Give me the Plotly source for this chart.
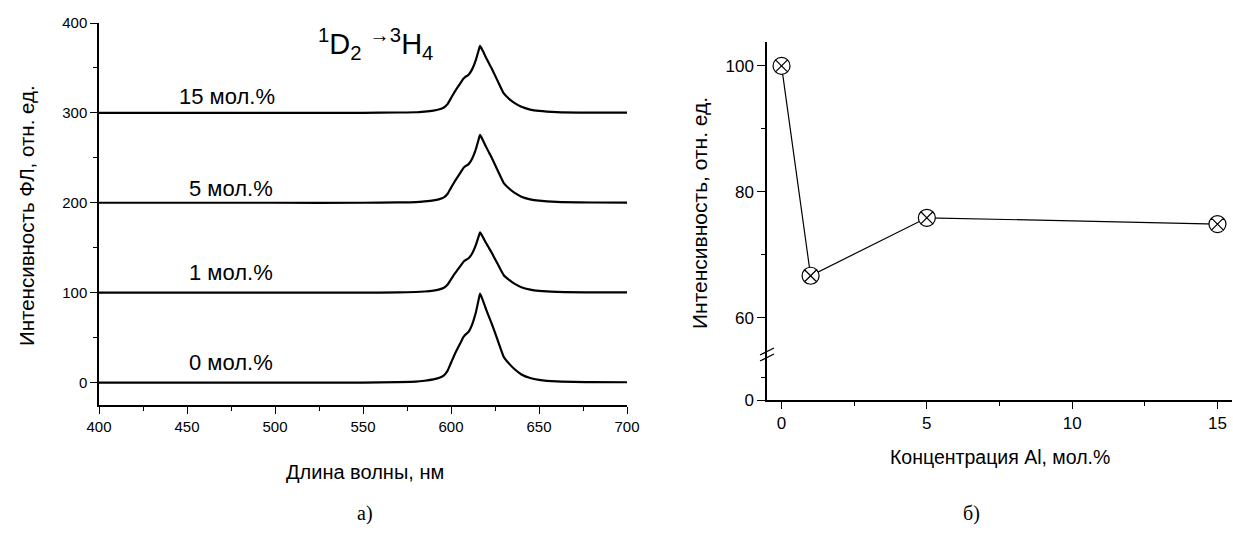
import plotly.graph_objects as go

# ---------------- data ----------------
wavelength = [400, 450, 500, 550, 570, 580, 585, 590, 593, 596, 598, 600, 602, 604, 606, 607, 608,
              610, 612, 614, 616, 616.5, 618, 620, 622, 623, 625, 627, 630, 633, 636, 640, 645,
              650, 660, 680, 700]
spec_0 = [0, 0, 0, 0, 0.5, 1, 2, 3.5, 5, 8, 13, 22, 31, 39, 46.5, 50.5, 53, 56.5, 64.5, 77, 95, 99,
          92, 81, 71, 66, 55.5, 44.5, 28.5, 21, 15, 9, 5, 3, 1.2, 0.4, 0.3]
spec_1 = [0, 0, 0, 0, 0.3, 0.7, 1.3, 2.3, 3.4, 5.4, 8.7, 14.7, 20.8, 26.1, 31.5, 34.2, 35.8, 38.2,
          43.6, 52.3, 64.3, 67, 62.3, 54.9, 48.2, 44.9, 37.5, 30.2, 19.4, 14.1, 10, 6, 3.4, 2, 0.8,
          0.3, 0.2]
spec_5 = [0, 0, 0, 0, 0.4, 0.8, 1.5, 2.6, 3.8, 6, 9.8, 16.6, 23.4, 29.4, 35.5, 38.5, 40.4, 43, 49.1,
          58.9, 72.5, 75.5, 70.2, 61.9, 54.4, 50.6, 42.3, 34, 21.9, 15.9, 11.3, 6.8, 3.8, 2.3, 0.9,
          0.3, 0.2]
spec_15 = [0, 0, 0, 0, 0.4, 0.7, 1.5, 2.6, 3.7, 6, 9.7, 16.4, 23.1, 29.1, 35, 38, 39.9, 42.5, 48.4,
           58.1, 71.5, 74.5, 69.3, 61.1, 53.6, 49.9, 41.7, 33.5, 21.6, 15.6, 11.2, 6.7, 3.7, 2.2,
           0.9, 0.3, 0.2]
spectra = [spec_0, spec_1, spec_5, spec_15]
offsets = [0, 100, 200, 300]
series_labels = ["0 мол.%", "1 мол.%", "5 мол.%", "15 мол.%"]
label_x = [475, 475, 475, 473]
label_y = [22, 122, 216, 318]

concentration = [0, 1, 5, 15]
intensity = [100, 66.7, 75.9, 74.9]

W, H = 1233, 534
FONT = "Liberation Sans, Arial, sans-serif"
SERIF = "Liberation Serif, Times New Roman, serif"


def px(x):
    return x / W


def py(y):
    return (H - y) / H


fig = go.Figure()

for s, off in zip(spectra, offsets):
    fig.add_trace(go.Scatter(
        x=wavelength, y=[v + off for v in s], mode="lines",
        line=dict(color="black", width=2.2, shape="spline", smoothing=0.5),
        xaxis="x", yaxis="y", showlegend=False, hoverinfo="skip"))

fig.add_trace(go.Scatter(
    x=concentration, y=intensity, mode="lines+markers",
    line=dict(color="black", width=1.2),
    marker=dict(symbol="circle-x", size=17, color="white",
                line=dict(color="black", width=1.2)),
    xaxis="x2", yaxis="y2", showlegend=False, cliponaxis=False))

# empty trace so that the lower (broken) segment of the right y axis is drawn
fig.add_trace(go.Scatter(x=[], y=[], xaxis="x2", yaxis="y3", showlegend=False))

axis_common = dict(showline=True, linecolor="black", linewidth=1.5, ticks="outside",
                   tickcolor="black", showgrid=False, zeroline=False, automargin=False)

fig.update_layout(
    width=W, height=H, margin=dict(l=0, r=0, t=0, b=0, autoexpand=False),
    paper_bgcolor="white", plot_bgcolor="white",
    font=dict(family=FONT, color="black"),
    xaxis=dict(domain=[px(99), px(627)], range=[400, 700], anchor="y",
               tickvals=[400, 450, 500, 550, 600, 650, 700], ticklen=7, tickwidth=1.3,
               minor=dict(dtick=25, tick0=400, ticklen=4, ticks="outside", tickcolor="black",
                          tickwidth=1.3),
               tickfont=dict(size=15), **axis_common),
    yaxis=dict(domain=[py(405), py(23)], range=[-25, 400], anchor="x",
               tickvals=[0, 100, 200, 300, 400], ticklen=7, tickwidth=1.3,
               minor=dict(dtick=50, tick0=0, ticklen=4, ticks="outside", tickcolor="black",
                          tickwidth=1.3),
               tickfont=dict(size=15), **axis_common),
    xaxis2=dict(domain=[px(767), px(1232)], range=[-0.5, 15.5], anchor="y3",
                tickvals=[0, 5, 10, 15], ticklen=7, tickwidth=1.2,
                minor=dict(dtick=2.5, tick0=0, ticklen=4, ticks="outside", tickcolor="black",
                           tickwidth=1.2),
                tickfont=dict(size=17), **axis_common),
    yaxis2=dict(domain=[py(352), py(42)], range=[54.6, 103.8], anchor="x2",
                tickvals=[60, 80, 100], ticklen=8, tickwidth=1.2,
                minor=dict(dtick=10, tick0=60, ticklen=4, ticks="outside", tickcolor="black",
                           tickwidth=1.2),
                tickfont=dict(size=17), **axis_common),
    yaxis3=dict(domain=[py(400), py(352)], range=[0, 43.6], anchor="x2",
                tickvals=[0], ticklen=8, tickwidth=1.2,
                minor=dict(tickvals=[20], ticklen=4, ticks="outside", tickcolor="black",
                           tickwidth=1.2),
                tickfont=dict(size=17), **axis_common),
)

annotations = []
for lx, ly, txt in zip(label_x, label_y, series_labels):
    annotations.append(dict(x=lx, y=ly, xref="x", yref="y", text=txt, showarrow=False,
                            font=dict(size=22, family=FONT), xanchor="center", yanchor="middle"))

annotations += [
    dict(x=px(316), y=py(44), xref="paper", yref="paper",
         text="<sup>1</sup>D<sub>2</sub> <sup>→</sup><sup>3</sup>H<sub>4</sub>",
         showarrow=False, font=dict(size=29, family=FONT), xanchor="left", yanchor="middle"),
    dict(x=px(365), y=py(472), xref="paper", yref="paper", text="Длина волны, нм",
         showarrow=False, font=dict(size=20, family=FONT), xanchor="center", yanchor="middle"),
    dict(x=px(26), y=py(216), xref="paper", yref="paper", text="Интенсивность ФЛ, отн. ед.",
         showarrow=False, textangle=-90, font=dict(size=20.5, family=FONT),
         xanchor="center", yanchor="middle"),
    dict(x=px(1000), y=py(457), xref="paper", yref="paper", text="Концентрация Al, мол.%",
         showarrow=False, font=dict(size=19.5, family=FONT), xanchor="center", yanchor="middle"),
    dict(x=px(699), y=py(213), xref="paper", yref="paper", text="Интенсивность, отн. ед.",
         showarrow=False, textangle=-90, font=dict(size=21, family=FONT),
         xanchor="center", yanchor="middle"),
    dict(x=px(365), y=py(513), xref="paper", yref="paper", text="а)",
         showarrow=False, font=dict(size=20, family=SERIF), xanchor="center", yanchor="middle"),
    dict(x=px(971), y=py(513), xref="paper", yref="paper", text="б)",
         showarrow=False, font=dict(size=20, family=SERIF), xanchor="center", yanchor="middle"),
]
fig.update_layout(annotations=annotations)

# axis break marks on the right panel's y axis
shapes = []
for dy in (0, 6):
    shapes.append(dict(type="line", xref="paper", yref="paper",
                       x0=px(760), y0=py(355 + dy), x1=px(774), y1=py(348 + dy),
                       line=dict(color="black", width=1.2)))
fig.update_layout(shapes=shapes)

fig.write_html("out.html", config={"displayModeBar": False},
               post_script="document.body.style.margin='0px';")
